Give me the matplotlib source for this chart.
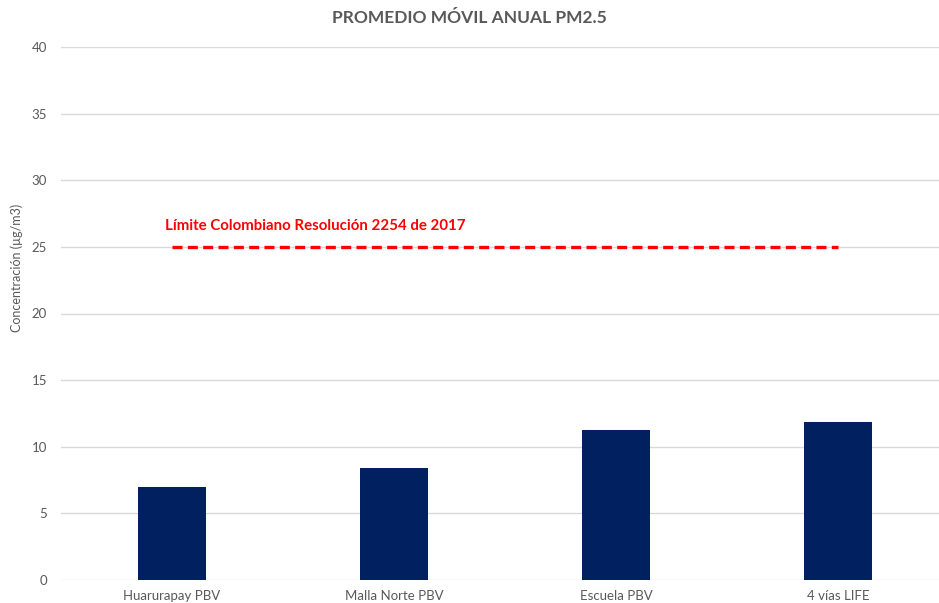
import matplotlib.pyplot as plt
import numpy as np

estaciones = ["Huarurapay PBV", "Malla Norte PBV", "Escuela PBV", "4 vías LIFE"]
promedio = [7.0, 8.4, 11.25, 11.85]
limite = [25, 25, 25, 25]
yticks = [0, 5, 10, 15, 20, 25, 30, 35, 40]

plt.rcParams["font.family"] = ["Lato", "DejaVu Sans"]
gris = "#595959"

fig = plt.figure(figsize=(9.39, 6.03), dpi=100)
ax = fig.add_axes([61 / 939, 23 / 603, 888 / 939, 533 / 603])

x = np.arange(len(estaciones))
ax.bar(x, promedio, width=0.31, color="#002060", zorder=3)
ax.plot(x, limite, color="#ff0000", linestyle=(0, (3, 1.6)), linewidth=2.4, zorder=4)
ax.text(-0.03, 26.55, "Límite Colombiano Resolución 2254 de 2017", color="#ff0000",
        fontsize=10.8, fontweight="bold", va="center", ha="left", zorder=5)

ax.set_xlim(-0.5, 3.5)
ax.set_ylim(0, 40)
ax.set_yticks(yticks)
ax.set_xticks(x)
ax.set_xticklabels(estaciones)
ax.yaxis.grid(True, color="#d9d9d9", linewidth=1, zorder=0)
for s in ax.spines.values():
    s.set_visible(False)
ax.tick_params(axis="both", length=0, colors=gris, labelsize=9.5)
ax.tick_params(axis="y", pad=10)
ax.tick_params(axis="x", pad=7)

fig.text(0.5, 0.97, "PROMEDIO MÓVIL ANUAL PM2.5", ha="center", va="center",
         fontsize=12.5, fontweight="bold", color=gris)
fig.text(17 / 939, 1 - 268 / 603, "Concentración (µg/m3)", rotation=90,
         ha="center", va="center", fontsize=9, color=gris)

fig.savefig("out.png", dpi=100)
